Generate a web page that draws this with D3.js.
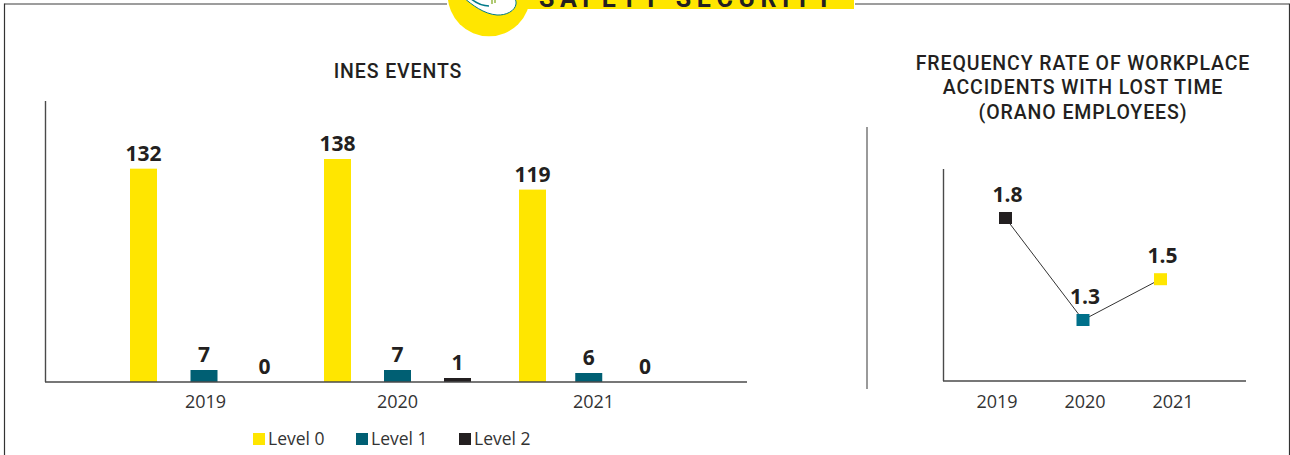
<!DOCTYPE html>
<html>
<head>
<meta charset="utf-8">
<script src="https://cdn.jsdelivr.net/npm/d3@7/dist/d3.min.js"></script>
<style>
  html, body { margin: 0; padding: 0; background: #fff; }
  svg { display: block; }
</style>
</head>
<body>
<svg id="chart" width="1290" height="455"></svg>
<script>
// INES events by level
const years = ["2019", "2020", "2021"];
const levels = ["Level 0", "Level 1", "Level 2"];
const level0 = [132, 138, 119];
const level1 = [7, 7, 6];
const level2 = [0, 1, 0];

// Workplace accident frequency rate
const rateYears = ["2019", "2020", "2021"];
const rateValues = [1.8, 1.3, 1.5];

const yellow = "#ffe600", teal = "#005f73", tealBright = "#00708a", ink = "#231f20";
const levelColors = [yellow, teal, ink];
const rateColors = [ink, tealBright, yellow];
const labelFont = "'Open Sans', sans-serif";
const headFont = "Roboto, sans-serif";

const svg = d3.select("#chart");

// Frame around the panel, interrupted by the section banner
svg.append("path").attr("fill", "none")
  .attr("d", "M4.5,4H447M855,4H1289")
  .attr("stroke", "#7d7d7d").attr("stroke-width", 1.3);
svg.append("path").attr("fill", "none")
  .attr("d", "M4.5,3.5V455M1289.5,3.5V455")
  .attr("stroke", "#333").attr("stroke-width", 1.2);

// Section banner, running off the top edge
svg.append("circle").attr("cx", 489).attr("cy", -5).attr("r", 41.3).attr("fill", yellow);
svg.append("rect").attr("x", 525).attr("y", -5).attr("width", 329).attr("height", 14).attr("fill", yellow);
svg.append("path")
  .attr("d", "M463,-3C472,5 484,14 497,15C506,15.5 515,11 516,4C516.5,1 515,-1 514,-3Z")
  .attr("fill", "#fff").attr("stroke", "#007a8a").attr("stroke-width", 1);
svg.append("path")
  .attr("d", "M470,-2C476,3 482,6 489,6")
  .attr("fill", "none").attr("stroke", "#007a8a").attr("stroke-width", 1.6);
svg.append("path")
  .attr("d", "M492,-1V4M495,-1V3")
  .attr("fill", "none").attr("stroke", "#8fb43a").attr("stroke-width", 1.4);
svg.append("text")
  .attr("x", 688).attr("y", 7).attr("text-anchor", "middle")
  .attr("font-family", headFont).attr("font-weight", 700).attr("font-size", 25)
  .attr("letter-spacing", 5.6).attr("fill", ink)
  .text("SAFETY SECURITY");

// Chart titles
function title(lines, cx, firstY) {
  svg.append("g").selectAll("text").data(lines).join("text")
    .attr("x", cx).attr("y", (d, i) => firstY + i * 24.5)
    .attr("text-anchor", "middle")
    .attr("font-family", headFont).attr("font-weight", 500).attr("font-size", 19.5)
    .attr("letter-spacing", 0.9).attr("fill", ink)
    .text(d => d);
}
title(["INES EVENTS"], 398, 77.5);
title(["FREQUENCY RATE OF WORKPLACE", "ACCIDENTS WITH LOST TIME", "(ORANO EMPLOYEES)"], 1083, 69.5);

// Grouped bars; low counts get extra height so the smallest bars stay visible
const barBase = 382;
const barY = d3.scaleLinear().domain([0, 1, 6, 7, 138]).range([barBase, 378, 373, 370, 159]);
const barWidth = 27;

// Each year's three bars are spread across their own span
const groupSpans = [[143.5, 264.5], [337.5, 457.5], [532.5, 645]];
const levelX = years.map((y, i) => d3.scalePoint().domain(levels).range(groupSpans[i]));

const barRows = years.map((year, i) => ({ i, values: [level0[i], level1[i], level2[i]] }));
const groups = svg.append("g").selectAll("g").data(barRows).join("g");

const cells = groups.selectAll("g")
  .data(d => d.values.map((value, j) => ({ value, level: levels[j], color: levelColors[j], yearIndex: d.i })))
  .join("g")
  .attr("transform", d => `translate(${levelX[d.yearIndex](d.level)},0)`);

cells.append("rect")
  .attr("x", -barWidth / 2).attr("width", barWidth)
  .attr("y", d => barY(d.value))
  .attr("height", d => barBase - barY(d.value))
  .attr("fill", d => d.color);

cells.append("text")
  .attr("y", d => barY(d.value) - 8)
  .attr("text-anchor", "middle")
  .attr("font-family", labelFont).attr("font-weight", 700).attr("font-size", 21)
  .attr("fill", ink)
  .text(d => d.value);

// Bar chart axes
const tickX = d3.scaleOrdinal().domain(years).range([205, 397, 593]);
const barAxis = svg.append("g").attr("transform", `translate(0,${barBase})`)
  .call(d3.axisBottom(tickX).tickSize(0).tickPadding(13));
barAxis.select(".domain").attr("d", "M45,0H747").attr("stroke", "#4a4a4a").attr("stroke-width", 1.6);
barAxis.selectAll("text").attr("font-family", labelFont).attr("font-size", 18).attr("fill", "#333");
svg.append("line").attr("x1", 45.5).attr("x2", 45.5).attr("y1", 101).attr("y2", 382)
  .attr("stroke", "#4a4a4a").attr("stroke-width", 1.4);

// Legend
const legendX = d3.scalePoint().domain(levels).range([253, 459]);
const legend = svg.append("g").selectAll("g").data(levels).join("g")
  .attr("transform", d => `translate(${legendX(d)},433)`);
legend.append("rect").attr("width", 12).attr("height", 12).attr("fill", (d, i) => levelColors[i]);
legend.append("text").attr("x", 15).attr("y", 11.5)
  .attr("font-family", labelFont).attr("font-size", 17.5).attr("fill", "#333")
  .text(d => d);

// Divider between the two charts
svg.append("line").attr("x1", 867).attr("x2", 867).attr("y1", 127).attr("y2", 389)
  .attr("stroke", "#6f6f6f").attr("stroke-width", 1.4);

// Frequency rate line chart
const rateBase = 381;
const rateTickX = d3.scaleBand().domain(rateYears).range([953, 1217]);
const rateX = d3.scalePoint().domain(rateYears).range([1005.5, 1160.5]);
const rateY = d3.scaleLinear().domain([1.3, 1.8]).range([320, 218]);

svg.append("path").datum(rateValues)
  .attr("fill", "none").attr("stroke", "#333").attr("stroke-width", 1)
  .attr("d", d3.line().x((d, i) => rateX(rateYears[i])).y(d => rateY(d)));

svg.append("g").selectAll("rect").data(rateValues).join("rect")
  .attr("x", (d, i) => rateX(rateYears[i]) - 6.5)
  .attr("y", d => rateY(d) - 6)
  .attr("width", 13).attr("height", 12)
  .attr("fill", (d, i) => rateColors[i]);

svg.append("g").selectAll("text").data(rateValues).join("text")
  .attr("x", (d, i) => rateX(rateYears[i]) + 2)
  .attr("y", d => rateY(d) - 16)
  .attr("text-anchor", "middle")
  .attr("font-family", labelFont).attr("font-weight", 700).attr("font-size", 21)
  .attr("fill", ink)
  .text(d => d3.format(".1f")(d));

const rateAxis = svg.append("g").attr("transform", `translate(0,${rateBase})`)
  .call(d3.axisBottom(rateTickX).tickSize(0).tickPadding(14));
rateAxis.select(".domain").attr("d", "M943,0H1246").attr("stroke", "#4a4a4a").attr("stroke-width", 1.6);
rateAxis.selectAll("text").attr("font-family", labelFont).attr("font-size", 18).attr("fill", "#333");
svg.append("line").attr("x1", 943.5).attr("x2", 943.5).attr("y1", 169).attr("y2", 381)
  .attr("stroke", "#4a4a4a").attr("stroke-width", 1.4);
</script>
</body>
</html>
